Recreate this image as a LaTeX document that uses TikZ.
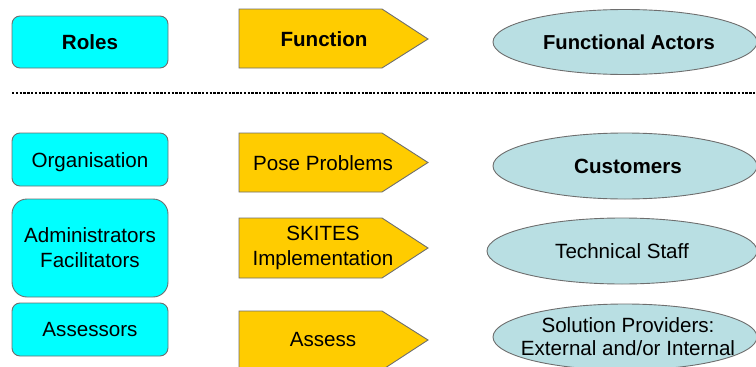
\documentclass[tikz,border=0pt]{standalone}
\usepackage{fontspec}
\setmainfont{Liberation Sans}
\usetikzlibrary{shapes.geometric}
\definecolor{rolefill}{HTML}{00FFFF}
\definecolor{funcfill}{HTML}{FFCC00}
\definecolor{actfill}{HTML}{B9DFE3}
\definecolor{edge}{HTML}{6E6E6E}
\tikzset{
  role/.style={draw=edge, fill=rolefill, line width=0.9pt, rounded corners=8pt,
    minimum width=156pt, inner sep=0pt, align=center, font=\fontsize{20.6}{25}\selectfont},
  func/.style={draw=edge, fill=funcfill, line width=0.9pt},
  functext/.style={inner sep=0pt, align=center, font=\fontsize{20.6}{25}\selectfont},
  actor/.style={draw=edge, fill=actfill, line width=0.9pt, ellipse, inner sep=0pt},
  actortext/.style={inner sep=0pt, align=center, font=\fontsize{20.6}{23}\selectfont},
  sep/.style={line width=2.4pt, dash pattern=on 2.4pt off 1.4pt}
}
\begin{document}
\begin{tikzpicture}[x=1pt,y=-1pt]
\useasboundingbox (0,0) rectangle (756,367);
\clip (0,0) rectangle (756,367);
% header
\node[role, minimum height=52pt] (roles) at (90,42) {\bfseries Roles};
\draw[func] (239,9) -- (382,9) -- (428,39) -- (382,68) -- (239,68) -- cycle;
\node[functext] (function) at (324,39) {\bfseries Function};
\node[actor, minimum width=264pt, minimum height=65pt] (actors) at (625,42) {};
\node[actortext, font=\fontsize{20.2}{23}\selectfont] (actorsT) at (629,42) {\bfseries Functional Actors};
% separator
\coordinate (sepL) at (12,93);
\coordinate (sepR) at (756,93);
\draw[sep] (sepL) -- (sepR);
% roles
\node[role, minimum height=53pt] (org) at (90,159.5) {};
\node[functext] (orgT) at (90,162) {Organisation};
\node[role, minimum height=98pt, rounded corners=15pt] (admin) at (90,248) {Administrators\\Facilitators};
\node[role, minimum height=53pt] (assessors) at (90,329.5) {Assessors};
% functions
\draw[func] (239,133) -- (382,133) -- (428,162.5) -- (382,192) -- (239,192) -- cycle;
\node[functext] (pose) at (323,163) {Pose Problems};
\draw[func] (239,218) -- (382,218) -- (428,248) -- (382,278) -- (239,278) -- cycle;
\node[functext] (skites) at (323,248) {SKITES\\Implementation};
\draw[func] (239,311) -- (382,311) -- (428,340) -- (382,370) -- (239,370) -- cycle;
\node[functext] (assess) at (323,340) {Assess};
% actors
\node[actor, minimum width=264pt, minimum height=66pt] (customers) at (625,166) {};
\node[actortext] (customersT) at (628,166) {\bfseries Customers};
\node[actor, minimum width=270pt, minimum height=66pt] (tech) at (622,251) {};
\node[actortext] (techT) at (tech) {Technical Staff};
\node[actor, minimum width=264pt, minimum height=66pt] (solution) at (625,337) {};
\node[actortext] (solutionT) at (628,337) {Solution Providers:\\External and/or Internal};
\end{tikzpicture}
\end{document}
